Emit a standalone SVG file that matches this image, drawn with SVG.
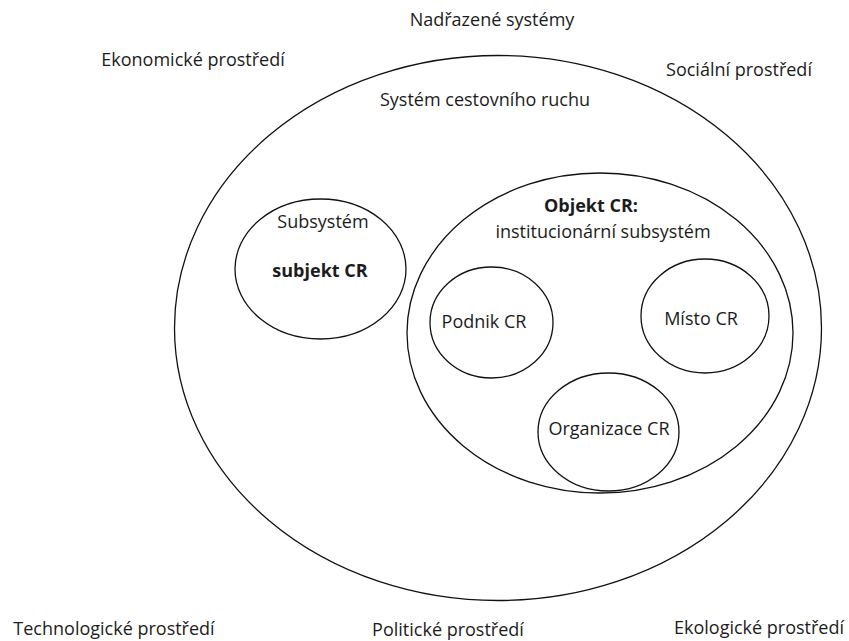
<svg xmlns="http://www.w3.org/2000/svg" width="849" height="641" viewBox="0 0 849 641">
<style>
.c{fill:none;stroke:#111;stroke-width:1.3}
text{font-family:"Open Sans","Liberation Sans",sans-serif;font-size:18px;fill:#1c1c1c;text-anchor:middle}
.b{font-weight:bold}
</style>
<rect width="849" height="641" fill="#fff"/>
<g id="labels">
<text x="492" y="26">Nadřazené systémy</text>
<text x="193" y="66">Ekonomické prostředí</text>
<text x="739" y="76">Sociální prostředí</text>
<text x="114" y="635">Technologické prostředí</text>
<text x="448" y="636">Politické prostředí</text>
<text x="759" y="634">Ekologické prostředí</text>
</g>
<g id="system">
<ellipse class="c" cx="498" cy="328" rx="323.5" ry="272.5"/>
<text x="485" y="106">Systém cestovního ruchu</text>
</g>
<g id="subsystem">
<ellipse class="c" cx="320.5" cy="269" rx="85.5" ry="70"/>
<text x="323" y="228">Subsystém</text>
<text class="b" x="320" y="277">subjekt CR</text>
</g>
<g id="objekt">
<ellipse class="c" cx="600" cy="333" rx="193" ry="160"/>
<text class="b" x="591" y="212">Objekt CR:</text>
<text x="603" y="238">institucionární subsystém</text>
</g>
<g id="podnik">
<ellipse class="c" cx="491.5" cy="322.5" rx="61.5" ry="55.5"/>
<text x="484" y="328">Podnik CR</text>
</g>
<g id="misto">
<ellipse class="c" cx="705" cy="316" rx="64" ry="57"/>
<text x="701" y="325">Místo CR</text>
</g>
<g id="organizace">
<ellipse class="c" cx="608.5" cy="432" rx="70.5" ry="59"/>
<text x="609" y="435">Organizace CR</text>
</g>
<g id="connectors"/>
</svg>
